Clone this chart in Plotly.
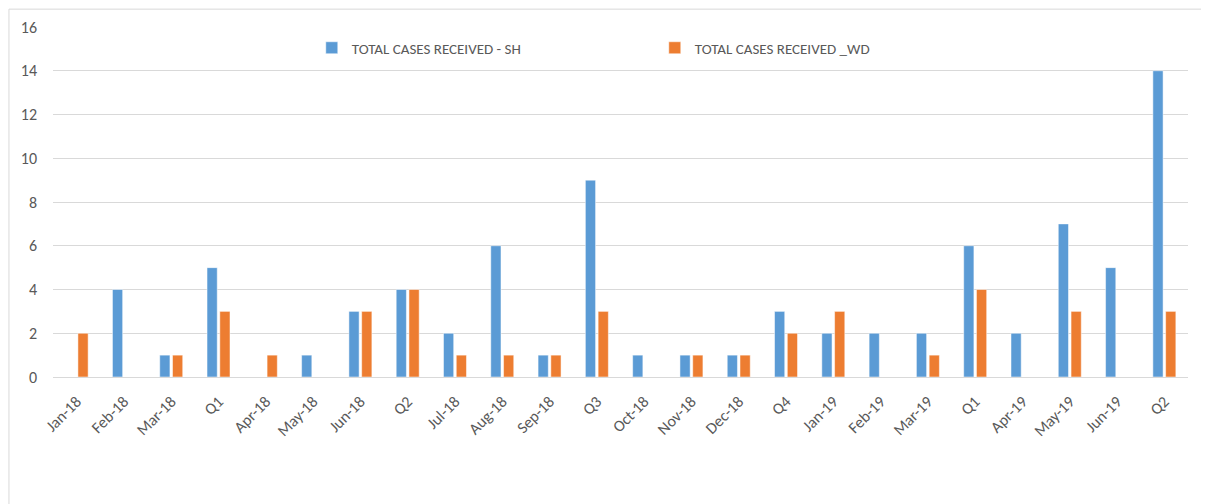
import plotly.graph_objects as go

categories = ["Jan-18", "Feb-18", "Mar-18", "Q1", "Apr-18", "May-18", "Jun-18", "Q2",
              "Jul-18", "Aug-18", "Sep-18", "Q3", "Oct-18", "Nov-18", "Dec-18", "Q4",
              "Jan-19", "Feb-19", "Mar-19", "Q1", "Apr-19", "May-19", "Jun-19", "Q2"]
sh_values = [0, 4, 1, 5, 0, 1, 3, 4, 2, 6, 1, 9, 1, 1, 1, 3, 2, 2, 2, 6, 2, 7, 5, 14]
wd_values = [2, 0, 1, 3, 1, 0, 3, 4, 1, 1, 1, 3, 0, 1, 1, 2, 3, 0, 1, 4, 0, 3, 0, 3]
y_ticks = [0, 2, 4, 6, 8, 10, 12, 14, 16]

x = list(range(len(categories)))

fig = go.Figure()
fig.add_trace(go.Bar(x=x, y=sh_values, name="TOTAL CASES RECEIVED - SH",
                     marker=dict(color="#5B9BD5", line=dict(color="#ffffff", width=0.5))))
fig.add_trace(go.Bar(x=x, y=wd_values, name="TOTAL CASES RECEIVED _WD",
                     marker=dict(color="#ED7D31", line=dict(color="#ffffff", width=0.5))))

fig.update_layout(
    width=1209, height=504,
    paper_bgcolor="white", plot_bgcolor="white",
    margin=dict(l=45, r=29, t=19, b=135, autoexpand=False),
    barmode="group", bargap=0.46, bargroupgap=0.2,
    font=dict(family="Carlito, Calibri, Lato, sans-serif", size=15, color="#595959"),
    legend=dict(orientation="h", x=0.228, y=0.94, xanchor="left", yanchor="middle",
                font=dict(size=15, color="#595959"), itemwidth=30, tracegroupgap=0,
                entrywidth=298, entrywidthmode="pixels", bgcolor="rgba(0,0,0,0)"),
    xaxis=dict(tickmode="array", tickvals=x, ticktext=categories, tickangle=-45,
               range=[-0.5, len(categories) - 0.5], showgrid=False, zeroline=False,
               showline=False, ticks="", tickfont=dict(size=16, color="#595959"),
               ticklabelstandoff=11, automargin=False),
    yaxis=dict(range=[0, 16], tickvals=y_ticks, showgrid=True, gridcolor="#D9D9D9",
               gridwidth=1, zeroline=True, zerolinecolor="#D9D9D9", zerolinewidth=1,
               showline=False, ticks="", tickfont=dict(size=16, color="#595959"),
               ticklabelstandoff=15, automargin=False),
    shapes=[dict(type="rect", xref="paper", yref="paper", x0=-0.0388, x1=1.0132, y0=-0.5, y1=1.051,
                 line=dict(color="#D9D9D9", width=1), fillcolor="rgba(0,0,0,0)", layer="below")],
)

fig.write_html("out.html")
